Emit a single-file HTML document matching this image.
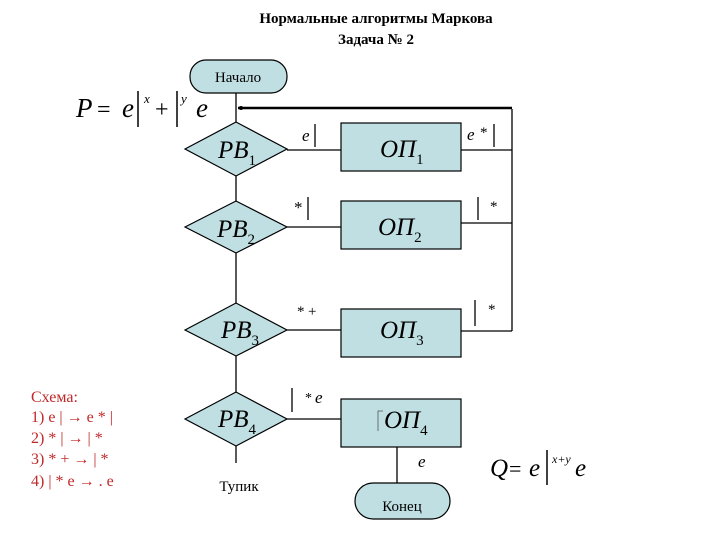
<!DOCTYPE html>
<html><head><meta charset="utf-8"><style>
html,body{margin:0;padding:0;background:#fff;}
svg{display:block}
text{font-family:"Liberation Serif",serif;}
.m{font-style:italic;}
.pre{white-space:pre;}
</style></head><body>
<svg width="720" height="540" viewBox="0 0 720 540" xmlns="http://www.w3.org/2000/svg">
<g font-weight="bold" font-size="15" text-anchor="middle" fill="#000">
<text x="376" y="23">Нормальные алгоритмы Маркова</text>
<text x="376" y="44">Задача № 2</text>
</g>
<g stroke="#000" stroke-width="1.3" fill="none">
<line x1="236" y1="93" x2="236" y2="463"/>
<line x1="287" y1="150" x2="341" y2="150"/>
<line x1="287" y1="227" x2="341" y2="227"/>
<line x1="287" y1="330" x2="341" y2="330"/>
<line x1="287" y1="419" x2="341" y2="419"/>
<line x1="461" y1="150" x2="512" y2="150"/>
<line x1="461" y1="223" x2="512" y2="223"/>
<line x1="461" y1="331" x2="512" y2="331"/>
<line x1="512" y1="109" x2="512" y2="331"/>
<line x1="397" y1="447" x2="397" y2="483"/>
</g>
<line x1="238" y1="108" x2="512" y2="108" stroke="#000" stroke-width="2.5"/>
<circle cx="241" cy="108" r="2" fill="#000"/>
<g fill="#bfdfe2" stroke="#000" stroke-width="1.2">
<rect x="190" y="60" width="97" height="33" rx="16"/>
<rect x="355" y="483" width="95" height="36" rx="18"/>
<polygon points="185,149 236,122 287,149 236,176"/>
<polygon points="185,227 236,201 287,227 236,253"/>
<polygon points="185,330 236,303 287,330 236,356"/>
<polygon points="185,419 236,392 287,419 236,446"/>
<rect x="341" y="123" width="120" height="48"/>
<rect x="341" y="201" width="120" height="48"/>
<rect x="341" y="309" width="120" height="48"/>
<rect x="341" y="399" width="120" height="48"/>
</g>
<g font-size="15" fill="#000" text-anchor="middle">
<text x="238" y="82">Начало</text>
<text x="402" y="511">Конец</text>
<text x="239" y="491">Тупик</text>
</g>
<g class="m" font-size="25" fill="#000">
<text x="218" y="158">PB<tspan font-size="15" font-style="normal" dy="7">1</tspan></text>
<text x="217" y="237">PB<tspan font-size="15" font-style="normal" dy="7">2</tspan></text>
<text x="221" y="338">PB<tspan font-size="15" font-style="normal" dy="7">3</tspan></text>
<text x="218" y="427">PB<tspan font-size="15" font-style="normal" dy="7">4</tspan></text>
<text x="380" y="157">OП<tspan font-size="15" font-style="normal" dy="7">1</tspan></text>
<text x="378" y="235">OП<tspan font-size="15" font-style="normal" dy="7">2</tspan></text>
<text x="380" y="338">OП<tspan font-size="15" font-style="normal" dy="7">3</tspan></text>
<text x="384" y="428">OП<tspan font-size="15" font-style="normal" dy="7">4</tspan></text>
</g>
<path d="M383 411 L378 411 L378 431" stroke="#555" stroke-width="0.8" fill="none"/>
<g fill="#000" font-size="17">
<text x="302" y="141" class="m">e</text>
<line x1="315" y1="124" x2="315" y2="147" stroke="#000" stroke-width="1.3"/>
<text x="294" y="213">*</text>
<line x1="308" y1="197" x2="308" y2="220" stroke="#000" stroke-width="1.3"/>
<text x="297" y="316" font-size="15">*</text><text x="308" y="316" font-size="15">+</text>
<line x1="292" y1="388" x2="292" y2="412" stroke="#000" stroke-width="1.3"/>
<text x="305" y="402" font-size="14">*</text><text x="315" y="403" class="m">e</text>
<text x="467" y="140" class="m">e</text><text x="480" y="137" font-size="15">*</text>
<line x1="494" y1="124" x2="494" y2="147" stroke="#000" stroke-width="1.3"/>
<line x1="478" y1="197" x2="478" y2="220" stroke="#000" stroke-width="1.3"/>
<text x="490" y="211" font-size="15">*</text>
<line x1="475" y1="300" x2="475" y2="326" stroke="#000" stroke-width="1.3"/>
<text x="488" y="314" font-size="15">*</text>
<text x="418" y="467" class="m">e</text>
</g>
<g fill="#000">
<text x="76" y="117" font-size="27" class="m">P</text>
<text x="97" y="117" font-size="24">=</text>
<text x="122" y="117" font-size="27" class="m">e</text>
<line x1="138" y1="91" x2="138" y2="127" stroke="#000" stroke-width="1.5"/>
<text x="144" y="103" font-size="13" class="m">x</text>
<text x="155" y="117" font-size="24">+</text>
<line x1="177" y1="91" x2="177" y2="127" stroke="#000" stroke-width="1.5"/>
<text x="181" y="103" font-size="13" class="m">y</text>
<text x="196" y="117" font-size="27" class="m">e</text>
</g>
<g fill="#000">
<text x="490" y="476" font-size="25" class="m">Q</text>
<text x="509" y="476" font-size="22">=</text>
<text x="529" y="476" font-size="25" class="m">e</text>
<line x1="547" y1="450" x2="547" y2="485" stroke="#000" stroke-width="1.5"/>
<text x="552" y="463" font-size="12" class="m">x+y</text>
<text x="575" y="476" font-size="25" class="m">e</text>
</g>
<g fill="#c0282a" font-size="16" class="pre">
<text x="31" y="402">Схема:</text>
<text x="31" y="422">1) e  |  →  e * |</text>
<text x="31" y="443">2) *  |  →  |  *</text>
<text x="31" y="464">3) * +  →  |  *</text>
<text x="31" y="486">4) |  * e  →  .  e</text>
</g>
</svg>
</body></html>
